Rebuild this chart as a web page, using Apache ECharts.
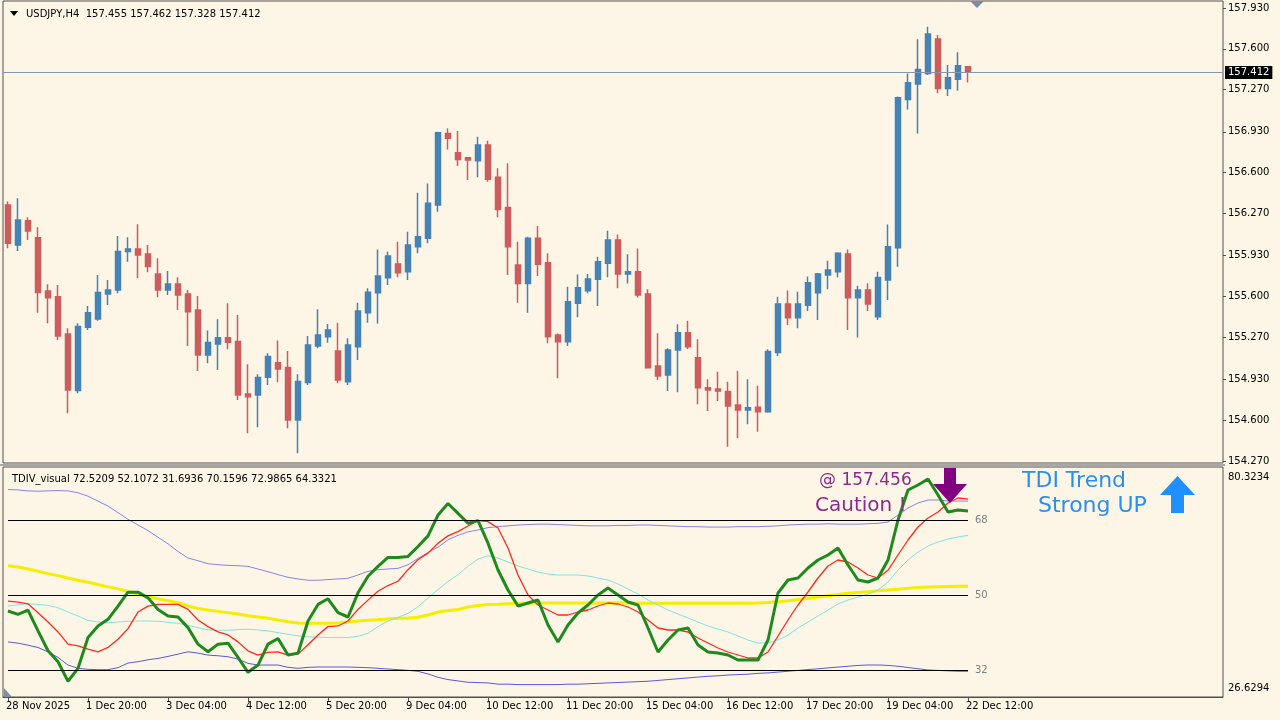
<!DOCTYPE html>
<html><head><meta charset="utf-8">
<script src="https://cdn.jsdelivr.net/npm/echarts@6/dist/echarts.min.js"></script>
<style>html,body{margin:0;padding:0;background:#fdf5e6}#c{width:1280px;height:720px}</style>
</head><body><div id="c"></div>
<script>
// ---- price data (USDJPY H4), one entry per bar ----
const openP = [156.339,156.016,156.212,156.075,155.644,155.598,155.297,154.839,155.350,155.418,
155.620,155.652,155.962,155.983,155.943,155.781,155.652,155.701,155.620,155.491,
155.127,155.216,155.267,155.235,154.812,154.804,154.947,155.065,155.025,154.602,
154.904,155.200,155.275,155.159,154.911,155.194,155.468,155.630,155.751,155.862,
155.800,156.002,156.069,156.338,156.917,156.761,156.721,156.696,156.823,156.562,
156.319,155.854,155.705,156.069,155.872,155.288,155.234,155.544,155.646,155.738,
155.867,156.056,155.781,155.800,155.620,155.038,154.965,155.167,155.307,155.105,
154.863,154.852,154.831,154.723,154.682,154.704,154.669,155.146,155.539,155.428,
155.528,155.630,155.773,155.800,155.943,155.590,155.652,155.436,155.733,155.994,
157.192,157.316,157.402,157.680,157.281,157.354,157.455];
const highP = [156.366,156.393,156.239,156.158,155.698,155.692,155.342,155.383,155.523,155.773,
155.733,156.088,156.078,156.183,156.016,155.908,155.806,155.754,155.652,155.604,
155.324,155.415,155.544,155.450,155.052,154.971,155.140,155.243,155.159,154.971,
155.280,155.496,155.377,155.388,155.261,155.549,155.665,155.980,155.961,156.042,
156.123,156.438,156.513,156.931,156.958,156.936,156.721,156.890,156.858,156.635,
156.675,156.042,156.082,156.169,155.948,155.301,155.679,155.778,155.781,155.921,
156.131,156.101,155.940,155.988,155.657,155.302,155.181,155.375,155.404,155.253,
154.930,154.992,154.911,155.000,154.930,154.879,155.173,155.598,155.647,155.638,
155.760,155.790,155.889,155.956,155.980,155.687,155.706,155.800,156.182,157.215,
157.402,157.677,157.779,157.712,157.469,157.572,157.462];
const lowP = [155.989,155.967,156.056,155.469,155.383,155.248,154.656,154.817,155.329,155.404,
155.531,155.625,155.881,155.746,155.795,155.593,155.612,155.491,155.200,154.998,
155.060,155.006,155.173,154.763,154.494,154.543,154.885,154.906,154.535,154.333,
154.885,155.181,155.226,154.898,154.884,155.086,155.388,155.382,155.692,155.754,
155.732,155.948,156.029,156.284,156.788,156.653,156.540,156.562,156.527,156.239,
155.773,155.549,155.468,155.765,155.221,154.938,155.199,155.431,155.625,155.522,
155.754,155.665,155.705,155.592,155.019,154.925,154.836,154.825,155.175,154.728,
154.674,154.755,154.386,154.454,154.567,154.507,154.660,155.119,155.369,155.342,
155.482,155.410,155.657,155.754,155.329,155.269,155.482,155.410,155.571,155.840,
157.111,156.917,157.389,157.241,157.219,157.262,157.328];
const closeP = [156.029,156.218,156.129,155.631,155.590,155.280,154.844,155.356,155.469,155.631,
155.652,155.962,155.983,155.935,155.841,155.652,155.701,155.612,155.477,155.127,
155.227,155.267,155.229,154.804,154.790,154.944,155.114,155.014,154.602,154.912,
155.208,155.289,155.328,154.924,155.207,155.482,155.633,155.765,155.926,155.792,
156.015,156.082,156.352,156.923,156.877,156.707,156.702,156.823,156.546,156.303,
156.002,155.705,156.069,155.859,155.275,155.234,155.557,155.670,155.740,155.880,
156.056,155.781,155.800,155.611,155.024,154.957,155.167,155.307,155.194,154.863,
154.844,154.836,154.715,154.682,154.701,154.669,155.154,155.539,155.428,155.539,
155.711,155.781,155.813,155.948,155.590,155.652,155.539,155.752,156.002,157.206,
157.327,157.434,157.720,157.281,157.367,157.464,157.412];

// ---- TDI indicator lines ----
const upperBand = [75.31,75.23,74.99,74.91,74.99,75.07,74.99,74.52,73.72,72.53,
71.34,69.75,68.16,66.81,65.46,63.87,62.28,60.45,58.86,58.23,
57.51,57.27,57.11,57.03,56.87,56.24,55.60,54.89,54.25,53.85,
53.54,53.54,53.70,53.85,54.01,54.81,55.68,56.08,56.24,56.40,
57.27,58.78,60.21,61.48,63.23,64.34,65.14,65.62,66.17,66.4,
66.6,66.8,66.9,67.0,67.0,66.9,66.8,66.7,66.6,66.6,
66.6,66.7,66.7,66.8,66.8,66.7,66.6,66.5,66.4,66.4,
66.3,66.3,66.3,66.4,66.4,66.4,66.5,66.6,66.8,66.9,
67.0,67.0,67.1,67.0,67.0,67.0,67.1,67.2,67.52,69.2,
70.88,72.08,72.8,72.8,72.56,72.56,72.5209];
const marketBase = [57.03,56.72,56.24,55.68,55.13,54.65,54.09,53.54,53.06,52.50,
51.95,51.47,50.83,50.20,49.56,49.09,48.61,48.13,47.34,46.78,
46.38,46.07,45.75,45.43,45.03,44.72,44.40,44.00,43.60,43.28,
43.21,43.21,43.21,43.28,43.52,43.76,43.92,44.08,44.24,44.40,
44.48,44.64,45.19,45.91,46.30,46.54,47.10,47.50,47.74,47.8,
47.9,48.0,48.0,48.1,48.1,48.1,48.1,48.1,48.1,48.1,
48.1,48.1,48.1,48.0,48.0,48.0,48.0,48.0,48.0,48.0,
48.0,48.0,48.0,48.0,48.0,48.1,48.2,48.4,48.6,48.9,
49.2,49.5,49.8,50.1,50.4,50.6,50.8,51.0,51.2,51.4,
51.6,51.8,51.9,52.0,52.05,52.1,52.1072];
const lowerBand = [38.75,38.44,37.96,37.40,36.37,35.02,33.19,32.40,32.16,32.08,
32.08,32.56,33.67,33.99,34.46,34.78,35.26,35.81,36.37,36.05,
35.58,35.42,35.18,34.62,33.59,33.19,33.19,33.19,32.64,32.40,
32.64,32.72,32.72,32.72,32.72,32.64,32.56,32.40,32.24,32.08,
31.92,31.68,31.05,30.25,29.70,29.38,29.06,28.98,28.90,28.6,
28.6,28.5,28.5,28.5,28.5,28.5,28.6,28.6,28.7,28.8,
28.9,29.0,29.1,29.2,29.3,29.5,29.7,29.9,30.1,30.3,
30.5,30.6,30.8,30.9,31.0,31.2,31.3,31.5,31.7,31.9,
32.1,32.3,32.5,32.7,32.9,33.1,33.2,33.2,33.1,32.9,
32.6,32.3,32.0,31.9,31.8,31.7,31.6936];
const rsiPriceLine = [46.15,45.35,46.38,41.38,36.61,33.99,29.30,32.40,39.79,42.57,
44.16,47.34,50.68,50.68,49.32,46.54,44.95,44.72,42.17,38.20,
36.37,38.20,38.44,35.02,31.44,33.19,38.20,39.55,35.58,36.05,
43.76,47.74,49.09,45.75,44.72,50.52,54.49,56.87,59.02,59.02,
59.26,61.64,64.19,69.19,71.97,69.59,67.21,67.84,62.44,56.0,
51.2,47.36,48.08,48.8,42.8,38.72,42.8,45.68,47.6,50.0,
51.68,50.0,48.32,47.6,42.08,36.32,39.2,41.6,42.08,38.0,
36.32,36.08,35.6,34.4,34.4,34.4,39.2,50.48,53.6,54.08,
56.48,58.4,59.6,61.28,57.2,53.6,53.12,54.08,58.4,68.0,
75.2,76.4,77.84,74.0,69.92,70.4,70.1596];
const signalLine = [48.53,48.29,47.89,45.75,43.52,41.14,38.20,37.80,37.01,36.37,
37.41,39.39,41.93,45.91,47.34,47.74,47.74,47.74,46.54,44.00,
42.41,41.14,40.42,38.75,36.61,35.58,36.21,36.37,35.58,35.81,
38.04,40.42,42.41,42.57,43.76,46.54,48.77,50.91,52.27,53.30,
56.08,58.46,60.05,62.44,64.19,65.22,66.57,67.84,67.60,66.08,
61.28,54.8,50.0,47.6,46.4,45.2,45.2,45.92,46.4,47.36,
48.08,47.84,47.12,45.92,44.0,42.08,41.6,41.6,41.12,39.68,
38.48,37.28,36.32,35.6,34.88,34.88,36.32,40.16,44.0,47.6,
50.72,54.08,56.96,58.4,57.92,56.48,54.8,54.08,55.92,59.6,
63.2,66.32,68.48,69.92,72.08,73.28,72.9865];
const slowLine = [47.34,47.66,47.89,47.74,47.50,46.94,45.91,44.95,43.92,43.52,
43.36,43.52,43.68,43.76,43.76,43.68,43.44,43.21,42.73,42.17,
41.62,41.54,41.54,41.70,41.77,41.62,41.38,40.98,40.58,40.19,
39.95,39.87,39.79,39.79,39.79,40.11,40.82,42.41,43.76,44.64,
45.59,47.18,49.24,51.31,53.22,54.89,56.87,58.62,59.42,58.88,
57.92,56.96,56.24,55.52,55.04,54.8,54.8,54.8,54.56,54.08,
53.6,52.64,51.44,50.24,48.8,47.6,46.4,45.44,44.48,43.52,
42.56,41.84,41.12,40.16,39.2,38.48,38.48,39.2,40.4,42.08,
43.52,44.96,46.4,47.84,48.8,49.52,50.24,51.2,53.12,56.0,
58.4,60.32,61.76,62.72,63.44,63.92,64.3321];

const levels = [68, 50, 32];
const xTickLabels = ["28 Nov 2025","1 Dec 20:00","3 Dec 04:00","4 Dec 12:00","5 Dec 20:00","9 Dec 04:00",
  "10 Dec 12:00","11 Dec 20:00","15 Dec 04:00","16 Dec 12:00","17 Dec 20:00","19 Dec 04:00","22 Dec 12:00"];
const xTickEvery = 8;
const priceTicks = [157.930,157.600,157.270,156.930,156.600,156.270,155.930,155.600,155.270,154.930,154.600,154.270];
const indTicks = [80.3234, 26.6294];
const slots = 122; // bars + chart shift space

// ---- build ----
const n = closeP.length;
const cats = Array.from({length: slots}, (_, i) => String(i));
const candles = closeP.map((c, i) => [openP[i], c, lowP[i], highP[i]]);
const last = n - 1;
const FF = '"DejaVu Sans", sans-serif';
const showTick = (idx) => idx % xTickEvery === 0 && idx / xTickEvery < xTickLabels.length;

const chart = echarts.init(document.getElementById('c'), null, {renderer: 'canvas'});
const lineS = (name, data, color, width) => ({
  name, type: 'line', xAxisIndex: 1, yAxisIndex: 1, data, symbol: 'none', silent: true,
  lineStyle: {color, width}, itemStyle: {color}
});
const upperS = lineS('upper', upperBand, '#8a84e6', 1);
upperS.markLine = {
  silent: true, symbol: ['none', 'none'], animation: false,
  lineStyle: {color: '#000', width: 1, type: 'solid'},
  label: {show: true, position: 'end', distance: 7, color: '#808080', fontSize: 10, fontFamily: FF,
          formatter: p => String(p.data.lv)},
  data: levels.map(l => [{coord: ['0', l], lv: l}, {coord: [String(last), l], lv: l}])
};

chart.setOption({
  animation: false,
  backgroundColor: '#fdf5e6',
  grid: [
    {left: 3, top: 1, width: 1220, height: 462, show: true, borderColor: '#505050', borderWidth: 1},
    {left: 3, top: 467, width: 1220, height: 230, show: true, borderColor: '#505050', borderWidth: 1},
    {left: 3, top: 477, width: 1220, height: 211, show: false}
  ],
  xAxis: [
    {type: 'category', gridIndex: 0, data: cats, boundaryGap: true, axisLine: {show: false},
     axisTick: {show: false}, axisLabel: {show: false}, splitLine: {show: false}},
    {type: 'category', gridIndex: 1, data: cats, boundaryGap: true,
     axisLine: {show: true, lineStyle: {color: '#505050'}},
     axisTick: {show: true, alignWithLabel: true, interval: (i) => showTick(i), length: 5, lineStyle: {color: '#505050'}},
     axisLabel: {interval: (i) => showTick(i), formatter: (v, i) => showTick(i) ? xTickLabels[i / xTickEvery] : '',
                 align: 'left', margin: 4, padding: [0, 0, 0, -2], fontSize: 10, fontFamily: FF, color: '#000'},
     splitLine: {show: false}},
    {type: 'category', gridIndex: 2, data: cats, show: false}
  ],
  yAxis: [
    {type: 'value', gridIndex: 0, position: 'right', min: 154.254, max: 157.987,
     splitLine: {show: false}, axisLine: {show: false},
     axisTick: {show: true, customValues: priceTicks, length: 3, lineStyle: {color: '#505050'}},
     axisLabel: {customValues: priceTicks, formatter: v => v.toFixed(3), margin: 5, fontSize: 10, fontFamily: FF, color: '#000'}},
    {type: 'value', gridIndex: 1, position: 'right', min: 25.52, max: 80.72,
     splitLine: {show: false}, axisLine: {show: false}, axisTick: {show: false}, axisLabel: {show: false}},
    {type: 'value', gridIndex: 2, position: 'right', min: indTicks[1], max: indTicks[0],
     splitLine: {show: false}, axisLine: {show: false}, axisTick: {show: false},
     axisLabel: {customValues: indTicks, formatter: v => v.toFixed(4), margin: 5, fontSize: 10, fontFamily: FF, color: '#000'}}
  ],
  series: [
    {type: 'candlestick', xAxisIndex: 0, yAxisIndex: 0, data: candles, barWidth: 6, silent: true,
     itemStyle: {color: '#4682b4', color0: '#cd5c5c', borderColor: '#4682b4', borderColor0: '#cd5c5c', borderWidth: 1.5},
     markLine: {silent: true, symbol: ['none', 'none'], animation: false,
       lineStyle: {color: '#8796a8', width: 1, type: 'solid'},
       label: {show: true, position: 'end', distance: 2, formatter: closeP[last].toFixed(3),
               color: '#fff', backgroundColor: '#000', padding: [2, 3, 1, 3], fontSize: 10, fontFamily: FF},
       data: [{yAxis: closeP[last]}]}},
    upperS,
    lineS('lower', lowerBand, '#5a5ad6', 1),
    lineS('base', marketBase, '#f5ee00', 3),
    lineS('slow', slowLine, '#7fe6e0', 1),
    lineS('signal', signalLine, '#ff2a1a', 1.3),
    lineS('rsi', rsiPriceLine, '#1e8a1e', 3)
  ],
  graphic: [
    {type: 'rect', z: 100, shape: {x: 0, y: 464, width: 1225, height: 2}, style: {fill: '#a8a8a8'}},
    {type: 'polygon', z: 100, shape: {points: [[10, 11], [18, 11], [14, 16]]}, style: {fill: '#000'}},
    {type: 'text', z: 100, x: 26, y: 14, style: {text: 'USDJPY,H4  ' + [openP[last], highP[last], lowP[last], closeP[last]].map(v => v.toFixed(3)).join(' '),
      font: '10px ' + FF, fill: '#000', verticalAlign: 'middle'}},
    {type: 'text', z: 100, x: 12, y: 479, style: {text: 'TDIV_visual ' + [upperBand[last], marketBase[last], lowerBand[last], rsiPriceLine[last], signalLine[last], slowLine[last]].map(v => v.toFixed(4)).join(' '),
      font: '10px ' + FF, fill: '#000', verticalAlign: 'middle'}},
    {type: 'polygon', z: 100, shape: {points: [[970, 1], [984, 1], [977, 8]]}, style: {fill: '#7d8ca0'}},
    {type: 'polygon', z: 100, shape: {points: [[4, 688], [4, 697], [12, 697]]}, style: {fill: '#8090a0'}},
    {type: 'text', z: 100, x: 819, y: 481, style: {text: '@ 157.456', font: '17px ' + FF, fill: '#8a2a8a', verticalAlign: 'middle'}},
    {type: 'text', z: 100, x: 815, y: 506, style: {text: 'Caution !', font: '20px ' + FF, fill: '#8a2a8a', verticalAlign: 'middle'}},
    {type: 'polygon', z: 100, shape: {points: [[944, 468], [956, 468], [956, 484], [967, 484], [950, 503], [933, 484], [944, 484]]}, style: {fill: '#800080'}},
    {type: 'text', z: 100, x: 1022, y: 481, style: {text: 'TDI Trend', font: '22px ' + FF, fill: '#2b8ff0', verticalAlign: 'middle'}},
    {type: 'text', z: 100, x: 1038, y: 506, style: {text: 'Strong UP', font: '22px ' + FF, fill: '#2b8ff0', verticalAlign: 'middle'}},
    {type: 'polygon', z: 100, shape: {points: [[1177.5, 476], [1195, 495], [1184, 495], [1184, 513], [1171, 513], [1171, 495], [1160, 495]]}, style: {fill: '#1e90ff'}}
  ]
});
</script>
</body></html>
